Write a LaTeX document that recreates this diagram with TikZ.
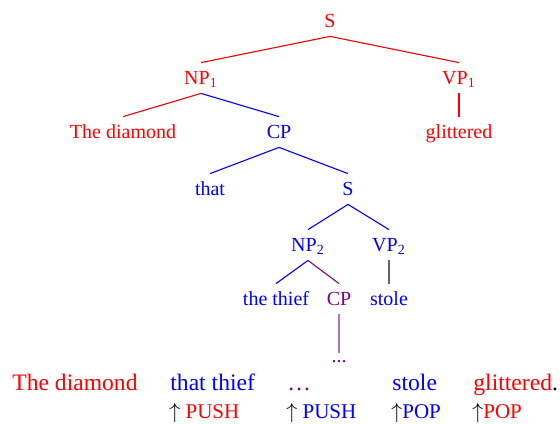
\documentclass[tikz,border=0pt]{standalone}
\usepackage{fontspec}
\setmainfont{Liberation Serif}
\definecolor{tred}{RGB}{255,0,0}
\definecolor{tblue}{RGB}{0,0,255}
\definecolor{tpurple}{RGB}{128,0,128}
\definecolor{tlpurple}{RGB}{190,110,190}
\definecolor{tgray}{RGB}{100,100,100}
\begin{document}
\begin{tikzpicture}[x=0.5pt,y=-0.5pt,
  tn/.style={anchor=base,font=\fontsize{10}{12}\selectfont,text height=8pt,text depth=2pt,inner sep=2.5pt},
  bw/.style={anchor=base west,inner sep=0pt,font=\fontsize{11.8}{14}\selectfont},
  pw/.style={anchor=base west,inner sep=0pt,font=\fontsize{10.5}{12}\selectfont},
  ed/.style={line width=0.55pt}]
\useasboundingbox (0,0) rectangle (560,423);
% tree nodes
\node[tn,text=tred] (S) at (330,27) {S};
\node[tn,text=tred] (NPa) at (201,84) {NP\textsubscript{1}};
\node[tn,text=tred] (VPa) at (459,84) {VP\textsubscript{1}};
\node[tn,text=tred] (diam) at (123,138) {The diamond};
\node[tn,text=tblue] (CPa) at (279,138) {CP};
\node[tn,text=tred] (glit) at (459,138) {glittered};
\node[tn,text=tblue] (that) at (210,195) {that};
\node[tn,text=tblue] (Sb) at (348,195) {S};
\node[tn,text=tblue] (NPb) at (308,251) {NP\textsubscript{2}};
\node[tn,text=tblue] (VPb) at (389,251) {VP\textsubscript{2}};
\node[tn,text=tblue] (thief) at (276,305) {the thief};
\node[tn,text=tpurple] (CPb) at (339,305) {CP};
\node[tn,text=tblue] (stole) at (389,305) {stole};
\node[tn,text=tpurple,text height=2pt] (dots) at (339,362) {...};
% edges
\draw[ed,tred] (S.south) -- (NPa.north);
\draw[ed,tred] (S.south) -- (VPa.north);
\draw[ed,tred] (NPa.south) -- (diam.north);
\draw[ed,tblue] (NPa.south) -- (CPa.north);
\draw[ed,tred] (VPa.south) -- (glit.north);
\draw[ed,tblue] (CPa.south) -- (that.north);
\draw[ed,tblue] (CPa.south) -- (Sb.north);
\draw[ed,tblue] (Sb.south) -- (NPb.north);
\draw[ed,tblue] (Sb.south) -- (VPb.north);
\draw[ed,tblue] (NPb.south) -- (thief.north);
\draw[ed,tpurple] (NPb.south) -- (CPb.north);
\draw[ed,tgray] (VPb.south) -- (stole.north);
\draw[ed,tlpurple] (CPb.south) -- (dots.north);
% bottom sentence
\node[bw,text=tred] (w1) at (12,390) {The diamond};
\node[bw,text=tblue] (w2) at (170,390) {that thief};
\node[bw,text=tpurple] (w3) at (287,390) {\ldots};
\node[bw,text=tblue] (w4) at (392,390) {stole};
\node[bw] (w5) at (473,390) {\textcolor{tred}{glittered}.};
\node[pw] (p1) at (169,418) {$\uparrow$ \textcolor{tred}{PUSH}};
\node[pw] (p2) at (286,418) {$\uparrow$ \textcolor{tblue}{PUSH}};
\node[pw] (p3) at (391,418) {$\uparrow$\textcolor{tblue}{POP}};
\node[pw] (p4) at (472,418) {$\uparrow$\textcolor{tred}{POP}};
\end{tikzpicture}
\end{document}
